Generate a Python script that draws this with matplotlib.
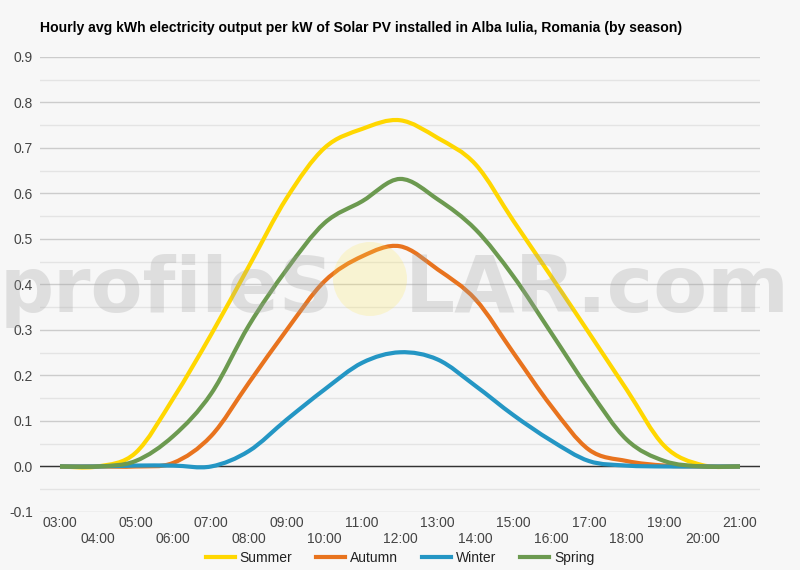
import matplotlib
matplotlib.use('Agg')
import matplotlib.pyplot as plt
import matplotlib.patches as patches
from matplotlib.path import Path
from matplotlib.lines import Line2D
import numpy as np

hours = list(range(3, 22))
hour_labels = ['%02d:00' % h for h in hours]

summer = [0.0, 0.0, 0.03, 0.15, 0.29, 0.44, 0.59, 0.70, 0.742, 0.761, 0.722, 0.664,
          0.54, 0.418, 0.294, 0.169, 0.045, 0.003, 0.0]
autumn = [0.0, 0.0, 0.0, 0.008, 0.067, 0.184, 0.30, 0.407, 0.462, 0.484, 0.433, 0.367,
          0.25, 0.133, 0.037, 0.012, 0.002, 0.0, 0.0]
winter = [0.0, 0.0, 0.002, 0.002, 0.0, 0.034, 0.103, 0.169, 0.228, 0.251, 0.235, 0.177,
          0.113, 0.057, 0.012, 0.002, 0.0, 0.0, 0.0]
spring = [0.0, 0.0, 0.012, 0.067, 0.16, 0.31, 0.433, 0.535, 0.583, 0.632, 0.587, 0.521,
          0.418, 0.294, 0.169, 0.059, 0.012, 0.0, 0.0]

series = [('Summer', summer, '#FFD700'),
          ('Autumn', autumn, '#E8731E'),
          ('Winter', winter, '#2496C4'),
          ('Spring', spring, '#6C9A50')]

bg = '#F7F7F7'


def smooth_path(x, y, k=1.0 / 6):
    # catmull-rom style bezier through the hourly points
    x = np.asarray(x, float)
    y = np.asarray(y, float)
    n = len(x)
    verts = [(x[0], y[0])]
    codes = [Path.MOVETO]
    for i in range(n - 1):
        i0 = max(i - 1, 0)
        i3 = min(i + 2, n - 1)
        c1 = (x[i] + (x[i + 1] - x[i0]) * k, y[i] + (y[i + 1] - y[i0]) * k)
        c2 = (x[i + 1] - (x[i3] - x[i]) * k, y[i + 1] - (y[i3] - y[i]) * k)
        verts += [c1, c2, (x[i + 1], y[i + 1])]
        codes += [Path.CURVE4] * 3
    return Path(verts, codes)


fig = plt.figure(figsize=(8, 5.7), dpi=100, facecolor=bg)
ax = fig.add_axes([0.05, 0.1018, 0.9, 0.7982])
ax.set_facecolor('none')

for name, vals, col in series:
    ax.add_patch(patches.PathPatch(smooth_path(hours, vals), fc='none', ec=col,
                                   lw=3.0, capstyle='butt', zorder=3))

ax.set_xlim(2.47, 21.53)
ax.set_ylim(-0.1, 0.9)
ax.set_yticks(np.arange(-0.1, 0.91, 0.1))
ax.set_yticklabels(['%.1f' % v for v in np.arange(-0.1, 0.91, 0.1)])
ax.set_yticks(np.arange(-0.05, 0.9, 0.1), minor=True)
ax.grid(axis='y', which='major', color='#CCCCCC', lw=1.0, zorder=0)
ax.grid(axis='y', which='minor', color='#E4E4E4', lw=1.0, zorder=0)
ax.axhline(0, color='#333333', lw=1.0, zorder=2)

ax.set_xticks(hours)
ax.set_xticklabels([lab if i % 2 == 0 else '\n' + lab for i, lab in enumerate(hour_labels)])
ax.tick_params(axis='both', which='both', length=0, labelsize=10, labelcolor='#444444')
ax.tick_params(axis='x', pad=3)
ax.tick_params(axis='y', pad=5)
for s in ax.spines.values():
    s.set_visible(False)

for lab in ax.get_xticklabels() + ax.get_yticklabels():
    lab.set_fontfamily('Liberation Sans')

fig.text(40 / 800, 1 - 28 / 570,
         'Hourly avg kWh electricity output per kW of Solar PV installed in Alba Iulia, Romania (by season)',
         fontsize=10.1, fontweight='bold', family='Liberation Sans', va='center', ha='left', color='#000000')

# watermark
fig.text(334 / 800, 1 - 312 / 570, 'profileS', fontsize=54.5, family='DejaVu Sans', fontweight='bold',
         color='#A0A0A0', alpha=0.28, ha='right', va='baseline', zorder=10)
fig.text(405 / 800, 1 - 312 / 570, 'LAR.com', fontsize=56.5, family='DejaVu Sans', fontweight='bold',
         color='#A0A0A0', alpha=0.28, ha='left', va='baseline', zorder=10)
fig.patches.append(patches.Ellipse((370 / 800, 1 - 279 / 570), 74 / 800, 74 / 570,
                                   transform=fig.transFigure, fc='#FFE650', ec='none',
                                   alpha=0.22, zorder=9))

handles = [Line2D([], [], color=c, lw=3.0) for _, _, c in series]
fig.legend(handles, [s[0] for s in series], loc='center', bbox_to_anchor=(0.5, 1 - 558 / 570),
           ncol=4, frameon=False, prop={'family': 'Liberation Sans', 'size': 10},
           handlelength=2.1, handletextpad=0.36, columnspacing=1.7, labelcolor='#222222')

fig.savefig('out.png', dpi=100, facecolor=bg)
